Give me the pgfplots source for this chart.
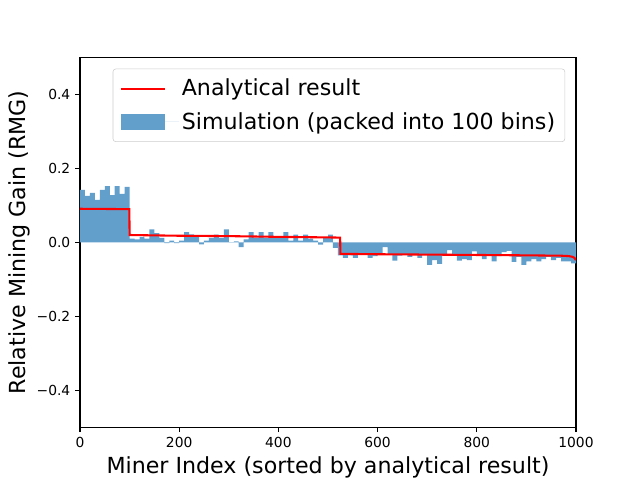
\documentclass[border=0pt]{standalone}
\usepackage{pgfplots}
\pgfplotsset{compat=1.18}
\usepackage{pgfplotstable}
\usepackage{fontspec}
\setmainfont{DejaVu Sans}
\definecolor{barblue}{RGB}{98,160,203}
\definecolor{legedge}{RGB}{204,204,204}

\pgfplotstableread{
x y
0 0.142
10 0.126
20 0.134
30 0.115
40 0.142
50 0.152
60 0.128
70 0.152
80 0.131
90 0.150
100 0.010
110 0.008
120 0.015
130 0.010
140 0.035
150 0.025
160 0.012
170 -0.002
180 0.005
190 -0.002
200 0.005
210 0.028
220 0.022
230 0.015
240 -0.005
250 0.005
260 0.012
270 0.021
280 0.012
290 0.035
300 0.001
310 0.003
320 -0.013
330 0.008
340 0.028
350 0.012
360 0.028
370 0.012
380 0.028
390 0.012
400 0.012
410 0.028
420 0.005
430 0.021
440 0.005
450 0.021
460 0.010
470 0.005
480 -0.006
490 0.012
500 0.021
510 -0.015
520 -0.035
530 -0.042
540 -0.035
550 -0.042
560 -0.033
570 -0.031
580 -0.042
590 -0.037
600 -0.033
610 -0.013
620 -0.033
630 -0.049
640 -0.036
650 -0.033
660 -0.039
670 -0.033
680 -0.042
690 -0.033
700 -0.061
710 -0.048
720 -0.058
730 -0.033
740 -0.021
750 -0.036
760 -0.049
770 -0.045
780 -0.048
790 -0.024
800 -0.036
810 -0.045
820 -0.036
830 -0.051
840 -0.037
850 -0.026
860 -0.023
870 -0.053
880 -0.039
890 -0.061
900 -0.051
910 -0.045
920 -0.051
930 -0.045
940 -0.039
950 -0.048
960 -0.042
970 -0.051
980 -0.051
990 -0.057
1000 -0.057
}\simdata

\pgfplotstableread{
x y
0 0.091
99.5 0.090
100 0.020
200 0.018
300 0.017
400 0.015
500 0.0135
524.5 0.013
525 -0.031
600 -0.032
700 -0.033
800 -0.034
900 -0.035
970 -0.036
985 -0.037
993 -0.039
997 -0.042
1000 -0.048
}\anadata

\begin{document}
\begin{tikzpicture}
\begin{axis}[
  scale only axis,
  width=357.12bp, height=266.112bp,
  xmin=0, xmax=1000, ymin=-0.5, ymax=0.5,
  xtick={0,200,400,600,800,1000},
  ytick={-0.4,-0.2,0,0.2,0.4},
  yticklabels={−0.4,−0.2,0.0,0.2,0.4},
  xticklabels={0,200,400,600,800,1000},
  /pgf/number format/assume math mode=true,
  tick align=outside,
  tick pos=left,
  major tick length=3.5pt,
  tick style={black, line width=0.8pt},
  axis line style={black, line width=0.8pt},
  ticklabel style={font=\fontsize{10}{12}\selectfont},
  xlabel={Miner Index (sorted by analytical result)},
  ylabel={Relative Mining Gain (RMG)},
  label style={font=\fontsize{16}{19}\selectfont},
  ylabel style={yshift=-2pt},
  legend style={at={(axis cs:978,0.47)}, anchor=north east,
    draw=legedge, rounded corners=2pt, fill=white,
    font=\fontsize{16}{19}\selectfont, row sep=6.5pt, inner xsep=5pt, inner ysep=5.5pt,
    /tikz/every even column/.append style={text height=12pt, text depth=4pt},
    legend cell align=left},
  legend image code/.code={\draw[#1, sharp corners] (0pt,0pt) -- (32pt,0pt); \path[draw=none] (0pt,0pt) -- (42pt,0pt);},
  clip=true,
]
\addlegendimage{red, line width=1.5pt}
\addlegendentry{Analytical result}
\addplot[ybar interval, fill=barblue, draw=none,
  legend image code/.code={\fill[barblue, sharp corners] (0pt,-5.8pt) rectangle (32pt,5.8pt); \path[draw=none] (0pt,0pt) -- (42pt,0pt);}]
  table[x=x,y=y] {\simdata};
\addlegendentry{Simulation (packed into 100 bins)}
\addplot[red, line width=1.5pt, forget plot] table[x=x,y=y] {\anadata};
\end{axis}
\pgfresetboundingbox
\useasboundingbox (-57.6bp,-38.016bp) rectangle (403.2bp,307.584bp);
\end{tikzpicture}
\end{document}
